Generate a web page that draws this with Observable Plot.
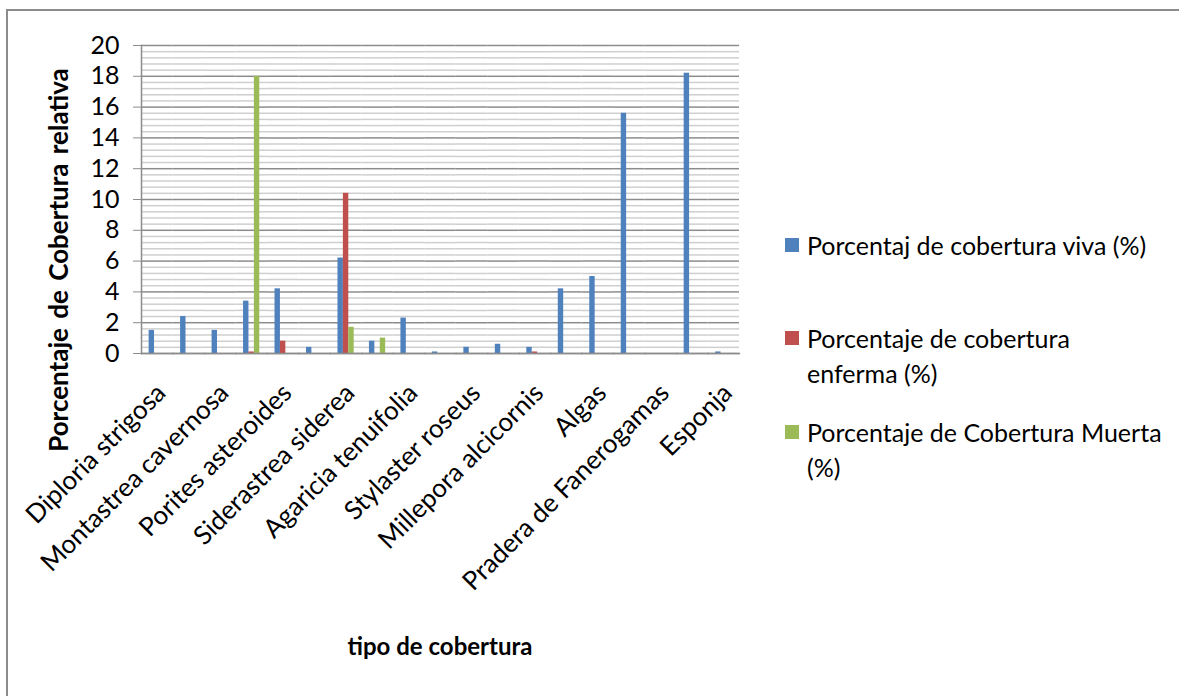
<!DOCTYPE html>
<html>
<head>
<meta charset="utf-8">
<script src="https://cdn.jsdelivr.net/npm/d3@7"></script>
<script src="https://cdn.jsdelivr.net/npm/@observablehq/plot@0.6"></script>
<style>
  body { margin: 0; background: #fff; font-family: Lato, "Open Sans", sans-serif; color: #000; }
  #chart { position: relative; width: 1179px; height: 696px; overflow: hidden; }
  #borde { position: absolute; left: 6px; top: 9px; width: 1300px; height: 900px;
           border-left: 2px solid #8c8c8c; border-top: 2px solid #8c8c8c; }
  #plot { position: absolute; left: 0; top: 0; }
  .titulo { position: absolute; font-weight: 700; white-space: nowrap; }
  #ytitulo { left: 58px; top: 260px; font-size: 26px; word-spacing: 3px; transform: translate(-50%, -50%) rotate(-90deg); }
  #xtitulo { left: 440px; top: 645px; font-size: 24px; transform: translate(-50%, -50%); }
  .item { position: absolute; left: 785px; }
  .item .cuadro { position: absolute; left: 0; width: 14px; height: 14px; }
  .item .texto { position: absolute; left: 22px; font-size: 25px; line-height: 35px; white-space: nowrap; }
</style>
</head>
<body>
<div id="chart">
  <div id="borde"></div>
  <div id="plot"></div>
  <div id="ytitulo" class="titulo">Porcentaje de Cobertura relativa</div>
  <div id="xtitulo" class="titulo">tipo de cobertura</div>
  <div id="leyenda"></div>
</div>
<script>
// Tipos de cobertura (sólo se rotula una de cada dos categorías)
const etiquetas = [
  "Diploria strigosa", "", "Montastrea cavernosa", "", "Porites asteroides", "",
  "Siderastrea siderea", "", "Agaricia tenuifolia", "", "Stylaster roseus", "",
  "Millepora alcicornis", "", "Algas", "", "Pradera de Fanerogamas", "", "Esponja"
];

// Series de porcentaje por categoría
const viva    = [1.5, 2.4, 1.5, 3.4, 4.2, 0.4, 6.2, 0.8, 2.3, 0.1, 0.4, 0.6, 0.4, 4.2, 5.0, 15.6, 0, 18.2, 0.1];
const enferma = [0, 0, 0, 0.1, 0.8, 0, 10.4, 0, 0, 0, 0, 0, 0.1, 0, 0, 0, 0, 0, 0];
const muerta  = [0, 0, 0, 18.0, 0, 0, 1.7, 1.0, 0, 0, 0, 0, 0, 0, 0, 0, 0, 0, 0];

const series = [
  "Porcentaj de cobertura viva (%)",
  "Porcentaje de cobertura enferma (%)",
  "Porcentaje de Cobertura Muerta (%)"
];
const colores = ["#4F81BD", "#C0504D", "#9BBB59"];
const ticksY = [0, 2, 4, 6, 8, 10, 12, 14, 16, 18, 20];

// Tabla larga para las barras agrupadas
const valores = [viva, enferma, muerta];
const tabla = [];
etiquetas.forEach((_, i) => {
  series.forEach((s, k) => {
    if (valores[k][i] > 0) tabla.push({cat: i, serie: s, valor: valores[k][i]});
  });
});

// Líneas de división secundarias cada 0,4
const menores = d3.range(0, 51).map(i => +(i * 0.4).toFixed(1)).filter(v => v % 2 !== 0);

const categorias = d3.range(etiquetas.length);

const plot = Plot.plot({
  width: 760,
  height: 696,
  marginLeft: 141,
  marginRight: 21,
  marginTop: 45,
  marginBottom: 343,
  style: {fontFamily: "Lato, 'Open Sans', sans-serif", fontSize: "25px", color: "#000", background: "transparent", overflow: "visible"},
  fx: {domain: categorias, padding: 0, round: false, axis: null},
  x: {domain: series, paddingInner: 0, paddingOuter: 1.41, round: false, axis: null},
  y: {domain: [0, 20], axis: null},
  color: {domain: series, range: colores},
  marks: [
    Plot.ruleY(menores, {stroke: "#cfcfcf", strokeWidth: 1.5}),
    Plot.ruleY(ticksY, {stroke: "#8c8c8c", strokeWidth: 1.5}),
    Plot.barY(tabla, {fx: "cat", x: "serie", y: "valor", fill: "serie"}),
    Plot.frame({anchor: "bottom", stroke: "#8c8c8c", strokeWidth: 1.5}),
    Plot.frame({anchor: "left", facetAnchor: "left", stroke: "#8c8c8c", strokeWidth: 1.5}),
    Plot.axisY({ticks: ticksY, tickSize: 8, tickPadding: 14, stroke: "#8c8c8c", fill: "#000", facetAnchor: "left", label: null, fontSize: 25}),
    Plot.text(categorias, {
      fx: d => d,
      text: d => etiquetas[d],
      frameAnchor: "bottom",
      rotate: -45,
      textAnchor: "end",
      lineAnchor: "bottom",
      dx: 10,
      dy: 41,
      fontSize: 26
    })
  ]
});
document.getElementById("plot").appendChild(plot);

// Leyenda a la derecha
const leyenda = [
  {lineas: ["Porcentaj de cobertura viva (%)"], centro: 245},
  {lineas: ["Porcentaje de cobertura", "enferma (%)"], centro: 338},
  {lineas: ["Porcentaje de Cobertura Muerta", "(%)"], centro: 432}
];
const cont = document.getElementById("leyenda");
leyenda.forEach((it, k) => {
  const item = document.createElement("div");
  item.className = "item";
  item.style.top = (it.centro - 17.5) + "px";
  const cuadro = document.createElement("div");
  cuadro.className = "cuadro";
  cuadro.style.background = colores[k];
  cuadro.style.top = "10.5px";
  const texto = document.createElement("div");
  texto.className = "texto";
  texto.innerHTML = it.lineas.join("<br>");
  item.appendChild(cuadro);
  item.appendChild(texto);
  cont.appendChild(item);
});
</script>
</body>
</html>
